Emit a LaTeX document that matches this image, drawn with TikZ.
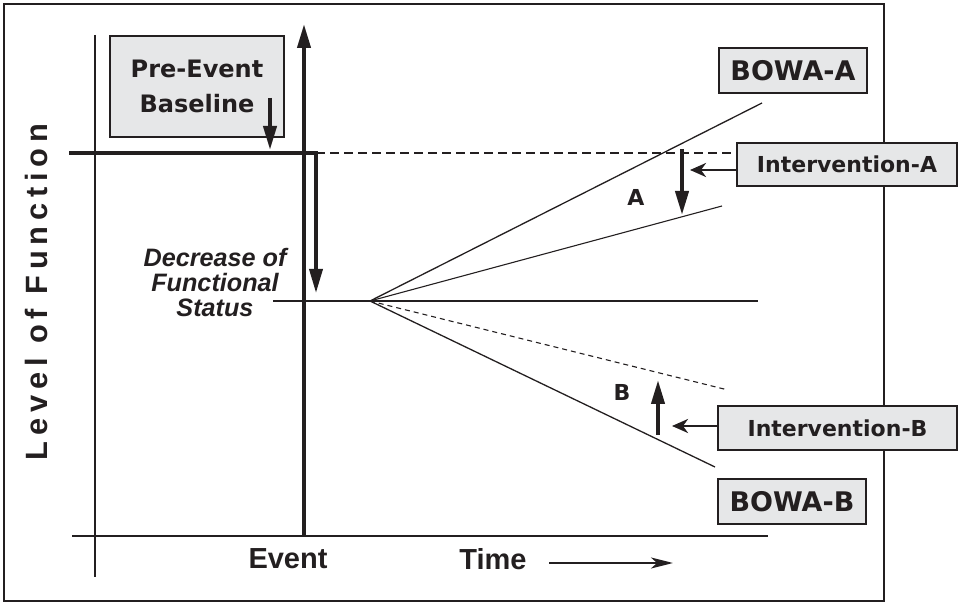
\documentclass[tikz,border=0pt]{standalone}
\usepackage{fontspec}
\setmainfont{Liberation Sans}
\newfontfamily\heavyfont{DejaVu Sans}
\usetikzlibrary{arrows.meta}
\definecolor{ink}{HTML}{231F20}
\definecolor{panel}{HTML}{E6E7E8}

\begin{document}
\begin{tikzpicture}[x=0.5pt, y=-0.5pt,
      every node/.style={text=ink, inner sep=0pt},
      labelbox/.style={draw=ink, fill=panel, line width=0.8pt, align=center},
      thinline/.style={draw=ink, line width=0.65pt},
      heavyline/.style={draw=ink, line width=2pt, line join=miter},
      bigtip/.style={-{Triangle[length=12pt, width=6.5pt]}},
      smalltip/.style={-{Stealth[length=8pt, width=7pt, inset=2.5pt]}}]
    \useasboundingbox (0,0) rectangle (958,603);
    % frame and axes
    \draw[ink, line width=0.75pt] (4,4) rectangle (884,601);
    \coordinate (yTop) at (95,35);
    \coordinate (yBot) at (95,577);
    \coordinate (xLeft) at (72,536);
    \coordinate (xRight) at (768,536);
    \draw[thinline, line width=0.7pt] (yTop) -- (yBot);
    \draw[thinline, line width=0.9pt] (xLeft) -- (xRight);
    \coordinate (evBot) at (304,536);
    \coordinate (evTop) at (304,24);
    \draw[heavyline, bigtip] (evBot) -- (evTop);
    % boxes
    \node[labelbox, minimum width=87pt, minimum height=50.5pt,
          font=\heavyfont\bfseries\fontsize{12}{17.5}\selectfont] (preBox) at (197,86.5) {Pre-Event\\Baseline};
    \node[labelbox, minimum width=74pt, minimum height=22.5pt,
          font=\heavyfont\bfseries\fontsize{13.5}{16}\selectfont] (bowaA) at (793,70.5) {BOWA-A};
    \node[labelbox, minimum width=110pt, minimum height=21.5pt,
          font=\heavyfont\bfseries\fontsize{11}{13}\selectfont] (intA) at (847,164.5) {Intervention-A};
    \node[labelbox, minimum width=119.5pt, minimum height=22pt,
          font=\heavyfont\bfseries\fontsize{11}{13}\selectfont] (intB) at (837.5,428) {Intervention-B};
    \node[labelbox, minimum width=74pt, minimum height=22.5pt,
          font=\heavyfont\bfseries\fontsize{13.5}{16}\selectfont] (bowaB) at (792,501.5) {BOWA-B};
    % baseline and drop
    \coordinate (baseL) at (69,153);
    \coordinate (baseR) at (316,153);
    \coordinate (dropEnd) at (316,293);
    \draw[heavyline, line width=1.8pt, bigtip] (baseL) -- (baseR) -- (dropEnd);
    \draw[ink, line width=1.1pt, dash pattern=on 4.5pt off 2.5pt] (baseR) -- (baseR -| intA.west);
    \coordinate (preArrS) at (270,98);
    \coordinate (preArrE) at (270,150);
    \draw[heavyline, bigtip] (preArrS) -- (preArrE);
    % functional status and fan
    \coordinate (statL) at (273,301);
    \coordinate (statR) at (758,301);
    \coordinate (fan) at (370,301);
    \coordinate (endBowaA) at (762,103);
    \coordinate (endIntA) at (722,206);
    \coordinate (endIntB) at (728,390);
    \coordinate (endBowaB) at (715,467);
    \draw[thinline, line width=1.1pt] (statL) -- (statR);
    \draw[thinline] (fan) -- (endBowaA);
    \draw[thinline, line width=0.55pt] (fan) -- (endIntA);
    \draw[thinline, line width=0.55pt, dash pattern=on 2.5pt off 2pt] (fan) -- (endIntB);
    \draw[thinline] (fan) -- (endBowaB);
    % interventions
    \coordinate (effA1) at (682,149);
    \coordinate (effA2) at (682,215);
    \draw[heavyline, bigtip] (effA1) -- (effA2);
    \coordinate (pokeA) at (690,170);
    \draw[ink, line width=1.3pt, smalltip] (intA.west |- pokeA) -- (pokeA);
    \coordinate (effB1) at (658,435);
    \coordinate (effB2) at (658,380);
    \draw[heavyline, bigtip] (effB1) -- (effB2);
    \coordinate (pokeB) at (672,426);
    \draw[ink, line width=1.3pt, smalltip] (intB.west |- pokeB) -- (pokeB);
    \node[font=\heavyfont\bfseries\fontsize{11}{13}\selectfont] (labA) at (636,197) {A};
    \node[font=\heavyfont\bfseries\fontsize{11}{13}\selectfont] (labB) at (622,392) {B};
    % texts
    \node[align=center, font=\bfseries\itshape\fontsize{12.6}{12.5}\selectfont] (decr) at (215,282)
      {Decrease of\\Functional\\Status};
    \node[rotate=90, font=\bfseries\fontsize{15.4}{18}\selectfont\addfontfeatures{LetterSpace=19}] (ylab) at (36,292) {Level of Function};
    \node[font=\bfseries\fontsize{14.5}{17}\selectfont] (evLab) at (288,559) {Event};
    \node[font=\bfseries\fontsize{14.5}{17}\selectfont] (timeLab) at (493,559) {Time};
    \coordinate (timeS) at (549,563);
    \coordinate (timeE) at (673,563);
    \draw[ink, line width=1.1pt, -{Stealth[length=11pt, width=5.5pt, inset=3pt]}] (timeS) -- (timeE);
  \end{tikzpicture}
\end{document}
